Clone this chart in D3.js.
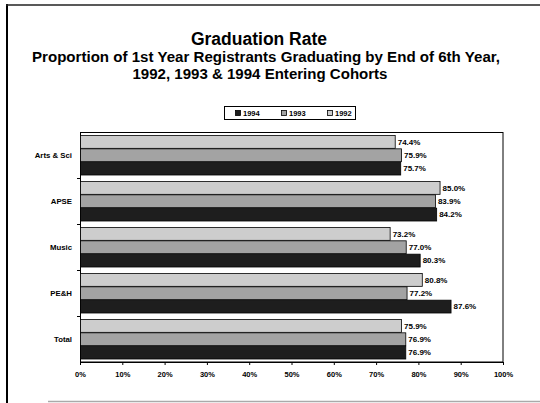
<!DOCTYPE html>
<html>
<head>
<meta charset="utf-8">
<script src="https://cdn.jsdelivr.net/npm/d3@7"></script>
<style>
  html, body { margin: 0; padding: 0; background: #fff; }
  svg { display: block; }
  text { font-family: Arial, "Liberation Sans", sans-serif; font-weight: bold; fill: #000; }
</style>
</head>
<body>
<svg id="chart" width="540" height="403"></svg>
<script>
// ---- data ----
const categories = ["Arts & Sci", "APSE", "Music", "PE&H", "Total"];
const seriesNames = ["1992", "1993", "1994"];          // top-to-bottom within each group
const values1992 = [74.4, 85.0, 73.2, 80.8, 75.9];
const values1993 = [75.9, 83.9, 77.0, 77.2, 76.9];
const values1994 = [75.7, 84.2, 80.3, 87.6, 76.9];
const xTicks = [0, 10, 20, 30, 40, 50, 60, 70, 80, 90, 100];
const legendOrder = ["1994", "1993", "1992"];
const titleText = "Graduation Rate";
const subtitleLines = [
  "Proportion of 1st Year Registrants Graduating by End of 6th Year,",
  "1992, 1993 & 1994 Entering Cohorts"
];

const seriesValues = { "1992": values1992, "1993": values1993, "1994": values1994 };
const seriesColor = { "1992": "#cdcdcd", "1993": "#a3a3a3", "1994": "#1e1e1e" };

const svg = d3.select("#chart");

// frame
svg.append("line").attr("x1", 7).attr("x2", 7).attr("y1", 4).attr("y2", 403)
  .attr("stroke", "#000").attr("stroke-width", 2);
svg.append("line").attr("x1", 6).attr("x2", 540).attr("y1", 5).attr("y2", 5)
  .attr("stroke", "#222").attr("stroke-width", 1.5);
svg.append("line").attr("x1", 48).attr("x2", 540).attr("y1", 401.5).attr("y2", 401.5)
  .attr("stroke", "#aaa").attr("stroke-width", 1.5);

// titles
svg.append("text").attr("x", 259).attr("y", 45).attr("text-anchor", "middle")
  .style("font-size", "17.5px").text(titleText);
const subX = [266, 260];
const subW = [468, 255];
subtitleLines.forEach((t, i) => {
  svg.append("text").attr("x", subX[i]).attr("y", 61.5 + i * 17).attr("text-anchor", "middle")
    .attr("textLength", subW[i]).attr("lengthAdjust", "spacingAndGlyphs")
    .style("font-size", "14.5px").text(t);
});

// legend
const lg = svg.append("g");
lg.append("rect").attr("x", 224.5).attr("y", 106.5).attr("width", 131).attr("height", 13)
  .attr("fill", "#fff").attr("stroke", "#000").attr("stroke-width", 1);
const legendX = d3.scalePoint().domain(legendOrder).range([235, 327]);
legendOrder.forEach(s => {
  const x = legendX(s);
  lg.append("rect").attr("x", x + 0.5).attr("y", 110.5).attr("width", 5).attr("height", 5)
    .attr("fill", seriesColor[s]).attr("stroke", "#000").attr("stroke-width", 0.8);
  lg.append("text").attr("x", x + 8).attr("y", 116).style("font-size", "7.5px").text(s);
});

// scales
const x = d3.scaleLinear().domain([0, 100]).range([80, 503]);
const y = d3.scaleBand().domain(categories).range([132, 362]).paddingInner(0.13).paddingOuter(0.065);
const yInner = d3.scaleBand().domain(seriesNames).range([0, y.bandwidth()]);

// plot area border
svg.append("rect").attr("x", 80.5).attr("y", 132.5).attr("width", 422.5).attr("height", 229.5)
  .attr("fill", "none").attr("stroke", "#000").attr("stroke-width", 1);

// bars
const groups = svg.selectAll("g.cat").data(categories).join("g")
  .attr("class", "cat").attr("transform", d => `translate(0,${y(d)})`);

seriesNames.forEach(s => {
  groups.append("rect")
    .attr("x", x(0) + 0.5)
    .attr("y", (d) => yInner(s) + 0.5)
    .attr("width", (d, i) => x(seriesValues[s][i]) - x(0))
    .attr("height", yInner.bandwidth() - 0.5)
    .attr("fill", seriesColor[s])
    .attr("stroke", "#000").attr("stroke-width", 0.8);
  groups.append("text")
    .attr("x", (d, i) => x(seriesValues[s][i]) + 3)
    .attr("y", yInner(s) + yInner.bandwidth() / 2 + 3)
    .style("font-size", "8px")
    .text((d, i) => seriesValues[s][i].toFixed(1) + "%");
});

// x axis
const xAxis = d3.axisBottom(x).tickValues(xTicks).tickFormat(d => d + "%").tickSize(3).tickPadding(7);
const gx = svg.append("g").attr("transform", "translate(0,362)").call(xAxis);
gx.select(".domain").attr("stroke", "#000");
gx.selectAll("text").style("font-size", "7.5px").style("font-family", "Arial, 'Liberation Sans', sans-serif").style("font-weight", "bold");

// y axis (category labels + ticks at band boundaries)
const boundaries = categories.slice(1).map(c => y(c) - y.step() * y.paddingInner() / 2);
svg.selectAll("line.ytick").data(boundaries).join("line")
  .attr("class", "ytick")
  .attr("x1", 77).attr("x2", 80).attr("y1", d => Math.round(d) + 0.5).attr("y2", d => Math.round(d) + 0.5)
  .attr("stroke", "#000");
svg.selectAll("text.ylab").data(categories).join("text")
  .attr("class", "ylab")
  .attr("x", 72).attr("y", d => y(d) + y.bandwidth() / 2 + 2.5)
  .attr("text-anchor", "end").style("font-size", "7.8px")
  .text(d => d);
</script>
</body>
</html>
